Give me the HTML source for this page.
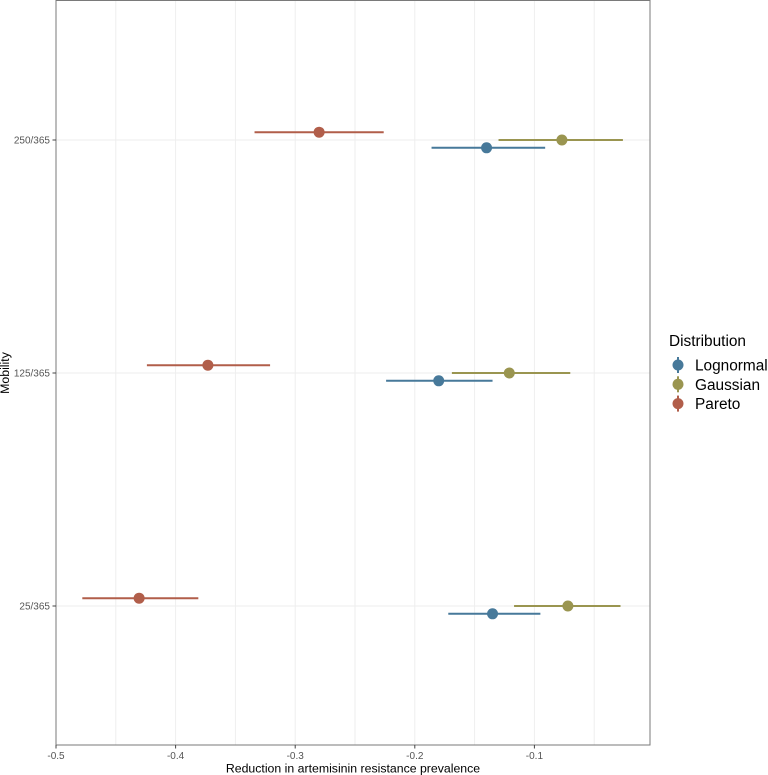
<!DOCTYPE html>
<html>
<head>
<meta charset="utf-8">
<style>
html,body{margin:0;padding:0;background:#fff;width:768px;height:775px;overflow:hidden}
svg{display:block;font-family:"Liberation Sans",Arial,sans-serif}
</style>
</head>
<body>
<svg id="chart" width="768" height="775" viewBox="0 0 768 775"></svg>
<script>
const categories = ['25/365', '125/365', '250/365'];
const seriesNames = ['Lognormal', 'Gaussian', 'Pareto'];
const seriesColors = ['#47799a', '#9a9550', '#b15e4a'];
const lognormalMid = [-0.135, -0.180, -0.140];
const lognormalLow = [-0.172, -0.224, -0.186];
const lognormalHigh = [-0.095, -0.135, -0.091];
const gaussianMid = [-0.072, -0.121, -0.077];
const gaussianLow = [-0.117, -0.169, -0.130];
const gaussianHigh = [-0.028, -0.070, -0.026];
const paretoMid = [-0.4305, -0.373, -0.280];
const paretoLow = [-0.478, -0.424, -0.334];
const paretoHigh = [-0.381, -0.321, -0.226];
const xTicks = [-0.5, -0.4, -0.3, -0.2, -0.1];
const xMinorTicks = [-0.45, -0.35, -0.25, -0.15, -0.05];

const NS = 'http://www.w3.org/2000/svg';
const svg = document.getElementById('chart');
const panel = {left: 56, right: 650, top: 0.5, bottom: 745};

function xScale(v) { return 56 + (v + 0.5) * 1196; }
function yScale(i) { return 606 - i * 233; }
function dodge(s) { return (s === 0 ? 1 : s === 2 ? -1 : 0) * 7.8; }

function make(tag, attrs, text) {
  const el = document.createElementNS(NS, tag);
  for (const k in attrs) el.setAttribute(k, attrs[k]);
  if (text !== undefined) el.textContent = text;
  svg.appendChild(el);
  return el;
}

xMinorTicks.concat(xTicks).forEach(function (v) {
  const g = make('line', {x1: xScale(v), x2: xScale(v), y1: panel.top, y2: panel.bottom, stroke: '#eeeeee', 'stroke-width': 1});
  
  
});

categories.forEach(function (c, i) {
  const g = make('line', {x1: panel.left, x2: panel.right, y1: yScale(i), y2: yScale(i), stroke: '#eeeeee', 'stroke-width': 1});
  
  
});

const seriesMid = [lognormalMid, gaussianMid, paretoMid];
const seriesLow = [lognormalLow, gaussianLow, paretoLow];
const seriesHigh = [lognormalHigh, gaussianHigh, paretoHigh];

seriesNames.forEach(function (name, s) {
  categories.forEach(function (c, i) {
    const y = yScale(i) + dodge(s);
    const bar = make('line', {x1: xScale(seriesLow[s][i]), x2: xScale(seriesHigh[s][i]), y1: y, y2: y, stroke: seriesColors[s], 'stroke-width': 2});
    
    
    const pt = make('circle', {cx: xScale(seriesMid[s][i]), cy: y, r: 5.5, fill: seriesColors[s]});
    
    
  });
});

const border = make('rect', {x: panel.left, y: panel.top, width: panel.right - panel.left, height: panel.bottom - panel.top, fill: 'none', stroke: '#7a7a7a', 'stroke-width': 1});



xTicks.forEach(function (v) {
  const t = make('line', {x1: xScale(v), x2: xScale(v), y1: panel.bottom, y2: panel.bottom + 3.5, stroke: '#444', 'stroke-width': 1});
  
  
  const l = make('text', {x: xScale(v), y: 759, 'text-anchor': 'middle', 'font-size': 10, fill: '#555'}, String(v));
  
  
});

categories.forEach(function (c, i) {
  const t = make('line', {x1: panel.left - 3.5, x2: panel.left, y1: yScale(i), y2: yScale(i), stroke: '#444', 'stroke-width': 1});
  
  
  const l = make('text', {x: 50, y: yScale(i) + 3.5, 'text-anchor': 'end', 'font-size': 10, fill: '#555'}, c);
  
  
});

const xTitle = make('text', {x: 353, y: 772.5, 'text-anchor': 'middle', 'font-size': 12.3, fill: '#000'}, 'Reduction in artemisinin resistance prevalence');



const yTitle = make('text', {x: 0, y: 0, 'text-anchor': 'middle', 'font-size': 12.3, fill: '#000', transform: 'translate(9 373) rotate(-90)'}, 'Mobility');



const legendTitle = make('text', {x: 669, y: 346, 'font-size': 15.4, fill: '#000'}, 'Distribution');



seriesNames.forEach(function (name, s) {
  const y = 365 + s * 19.3;
  const v = make('line', {x1: 678, x2: 678, y1: y - 8, y2: y + 8, stroke: seriesColors[s], 'stroke-width': 2});
  
  
  const d = make('circle', {cx: 678, cy: y, r: 5.5, fill: seriesColors[s]});
  
  
  const l = make('text', {x: 695, y: y + 5.5, 'font-size': 15.4, fill: '#000'}, name);
  
  
});
</script>
</body>
</html>
